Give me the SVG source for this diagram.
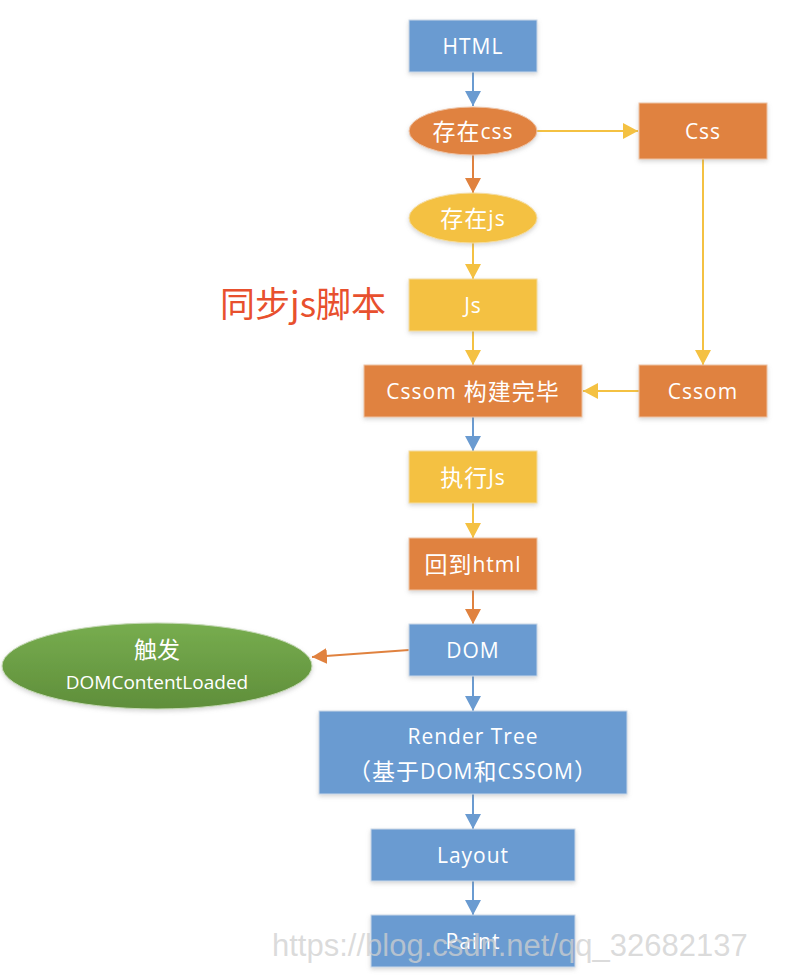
<svg xmlns="http://www.w3.org/2000/svg" width="808" height="978" viewBox="0 0 808 978">
<defs>
<filter id="sh" x="-10%" y="-20%" width="120%" height="140%">
<feDropShadow dx="0" dy="2" stdDeviation="2" flood-color="#8a8a8a" flood-opacity="0.35"/>
</filter>
<linearGradient id="gg" x1="0" y1="0" x2="0" y2="1">
<stop offset="0" stop-color="#77ad4f"/>
<stop offset="1" stop-color="#5f8e3a"/>
</linearGradient>
<marker id="ab" markerUnits="userSpaceOnUse" markerWidth="18" markerHeight="18" refX="15" refY="9" orient="auto"><path d="M0,1 L15,9 L0,17 Z" fill="#6a9bd1"/></marker>
<marker id="ao" markerUnits="userSpaceOnUse" markerWidth="18" markerHeight="18" refX="15" refY="9" orient="auto"><path d="M0,1 L15,9 L0,17 Z" fill="#e0823f"/></marker>
<marker id="ay" markerUnits="userSpaceOnUse" markerWidth="18" markerHeight="18" refX="15" refY="9" orient="auto"><path d="M0,1 L15,9 L0,17 Z" fill="#f4c142"/></marker>
</defs>
<style>
.b{fill:#6a9bd1;stroke:#c9d7e8;stroke-width:1;filter:url(#sh)}
.o{fill:#e0823f;stroke:#eec3a6;stroke-width:1;filter:url(#sh)}
.y{fill:#f4c142;stroke:#f4dca0;stroke-width:1;filter:url(#sh)}
.g{fill:url(#gg);stroke:#c4d8b4;stroke-width:1;filter:url(#sh)}
.t{fill:#ffffff;font-family:"Open Sans","Noto Sans CJK SC",sans-serif;font-size:21px;letter-spacing:1px;text-anchor:middle;dominant-baseline:central}
.c{font-size:23px}
.e{fill:#ffffff;font-family:"Open Sans","Noto Sans CJK SC",sans-serif;font-size:19px;text-anchor:middle;dominant-baseline:central}
.e2{font-size:23px}
.lb{stroke:#6a9bd1;stroke-width:2;fill:none;marker-end:url(#ab)}
.lo{stroke:#e0823f;stroke-width:2;fill:none;marker-end:url(#ao)}
.ly{stroke:#f4c142;stroke-width:2;fill:none;marker-end:url(#ay)}
</style>
<rect width="808" height="978" fill="#ffffff"/>
<g id="connectors">
<line class="lb" x1="473" y1="72" x2="473" y2="106"/>
<line class="ly" x1="537" y1="131" x2="638" y2="131"/>
<line class="lo" x1="473" y1="155" x2="473" y2="193"/>
<line class="ly" x1="473" y1="243" x2="473" y2="279"/>
<line class="ly" x1="703" y1="159" x2="703" y2="365"/>
<line class="ly" x1="473" y1="331" x2="473" y2="365"/>
<line class="ly" x1="639" y1="391" x2="583" y2="391"/>
<line class="lb" x1="473" y1="417" x2="473" y2="451"/>
<line class="ly" x1="473" y1="503" x2="473" y2="538"/>
<line class="lo" x1="473" y1="590" x2="473" y2="624"/>
<line class="lo" x1="409" y1="650" x2="312" y2="657"/>
<line class="lb" x1="473" y1="676" x2="473" y2="711"/>
<line class="lb" x1="473" y1="794" x2="473" y2="829"/>
<line class="lb" x1="473" y1="881" x2="473" y2="915"/>
</g>
<g id="html"><rect class="b" x="409" y="20" width="128" height="52"/><text class="t" x="473" y="46">HTML</text></g>
<g id="has-css"><ellipse class="o" cx="473" cy="131" rx="64" ry="24"/><text class="t" x="473" y="131"><tspan class="c">存在</tspan>css</text></g>
<g id="css"><rect class="o" x="639" y="103" width="128" height="56"/><text class="t" x="703" y="131">Css</text></g>
<g id="has-js"><ellipse class="y" cx="473" cy="218" rx="64" ry="25"/><text class="t" x="473" y="218"><tspan class="c">存在</tspan>js</text></g>
<g id="js"><rect class="y" x="409" y="279" width="128" height="52"/><text class="t" x="473" y="305">Js</text></g>
<g id="sync-label"><text x="220" y="301" font-family="'Noto Sans CJK SC',sans-serif" font-size="35" fill="#e8502e" dominant-baseline="central">同步js脚本</text></g>
<g id="cssom-done"><rect class="o" x="364" y="365" width="218" height="52"/><text class="t" x="473" y="391">Cssom<tspan class="c"> 构建完毕</tspan></text></g>
<g id="cssom"><rect class="o" x="639" y="365" width="128" height="52"/><text class="t" x="703" y="391">Cssom</text></g>
<g id="exec-js"><rect class="y" x="409" y="451" width="128" height="52"/><text class="t" x="473" y="477"><tspan class="c">执行</tspan>Js</text></g>
<g id="back-html"><rect class="o" x="409" y="538" width="128" height="52"/><text class="t" x="473" y="564"><tspan class="c">回到</tspan>html</text></g>
<g id="dom"><rect class="b" x="409" y="624" width="128" height="52"/><text class="t" x="473" y="650">DOM</text></g>
<g id="dcl"><ellipse class="g" cx="157" cy="666" rx="155" ry="43"/><text class="e e2" x="157" y="649">触发</text><text class="e" x="157" y="682">DOMContentLoaded</text></g>
<g id="render-tree"><rect class="b" x="319" y="711" width="308" height="83"/><text class="t" x="473" y="736">Render Tree</text><text class="t" x="473" y="771"><tspan class="c">（基于</tspan>DOM<tspan class="c">和</tspan>CSSOM<tspan class="c">）</tspan></text></g>
<g id="layout"><rect class="b" x="371" y="829" width="204" height="52"/><text class="t" x="473" y="855">Layout</text></g>
<g id="paint"><rect class="b" x="371" y="915" width="204" height="52"/><text class="t" x="473" y="941">Paint</text></g>
<text x="272" y="945" font-family="'Liberation Sans',sans-serif" font-size="31" fill="#cfcfcf" fill-opacity="0.75" dominant-baseline="central">https://blog.csdn.net/qq_32682137</text>
</svg>
